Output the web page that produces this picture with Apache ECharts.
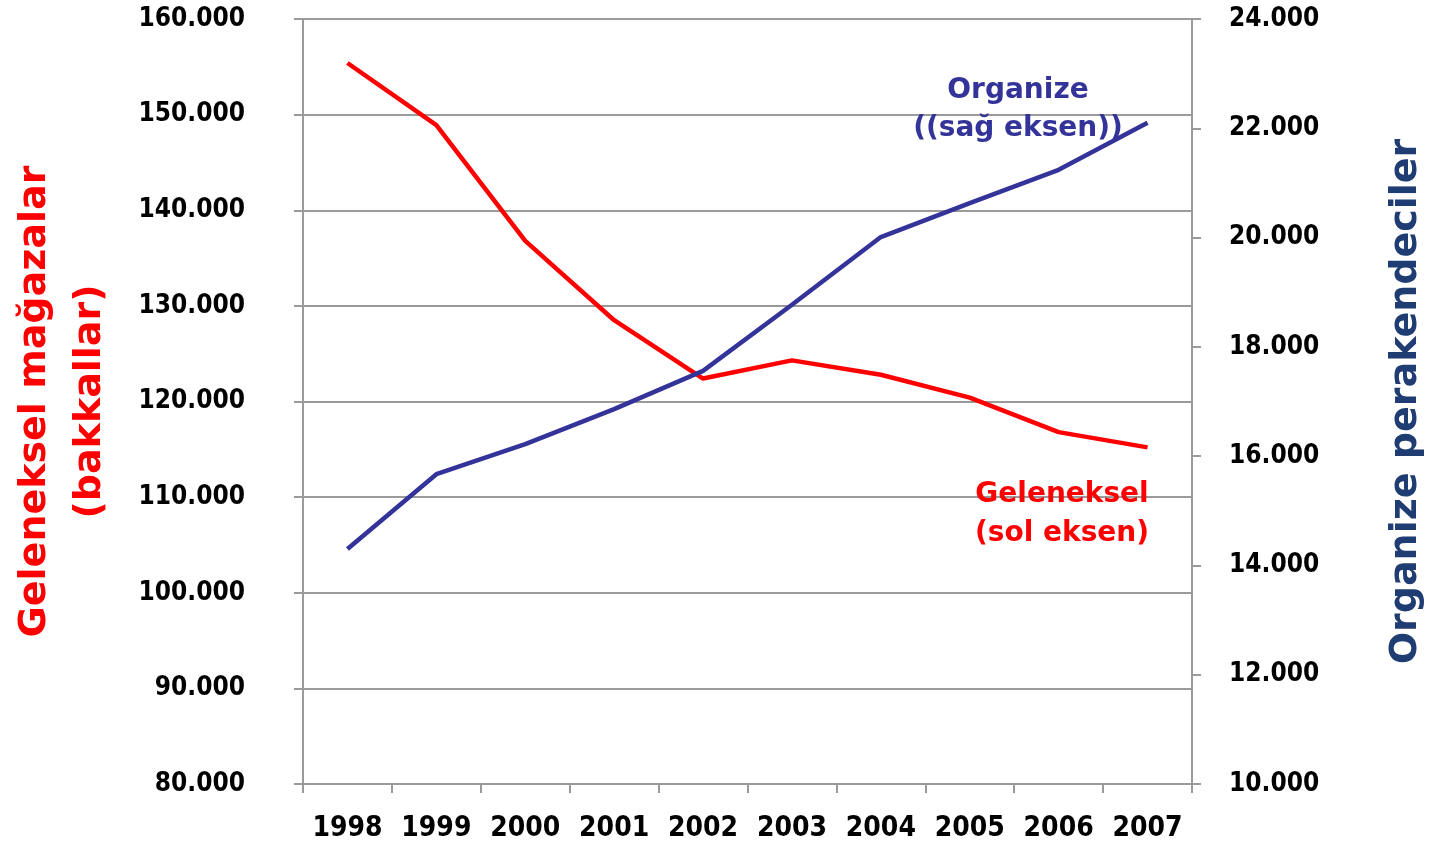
<!DOCTYPE html>
<html>
<head>
<meta charset="utf-8">
<script src="https://cdn.jsdelivr.net/npm/echarts@6/dist/echarts.min.js"></script>
<style>
html, body { margin: 0; padding: 0; background: #fff; }
#main { width: 1439px; height: 843px; }
</style>
</head>
<body>
<div id="main"></div>
<script>
// veriler
const years = ['1998', '1999', '2000', '2001', '2002', '2003', '2004', '2005', '2006', '2007'];
const geleneksel = [155400, 148900, 136800, 128500, 122400, 124300, 122800, 120400, 116800, 115200];
const organize = [14300, 15670, 16220, 16860, 17560, 18770, 20010, 20630, 21240, 22100];

const FONT = '"DejaVu Sans", Verdana, sans-serif';
const FONT_NUM = '"DejaVu Sans Condensed", "DejaVu Sans", sans-serif';
const gray = '#9a9a9a';

// 160000 -> "160.000"
function fmt(v) {
    return String(v).replace(/\B(?=(\d{3})+(?!\d))/g, '.');
}

const labelStyle = { color: '#000', fontFamily: FONT_NUM, fontWeight: 'bold', fontSize: 26 };

const chart = echarts.init(document.getElementById('main'));
chart.setOption({
    animation: false,
    grid: { left: 303, right: 247, top: 19, bottom: 59, containLabel: false, outerBoundsMode: 'none' },
    xAxis: {
        type: 'category',
        data: years,
        boundaryGap: true,
        axisLine: { lineStyle: { color: gray, width: 2 } },
        axisTick: { show: true, length: 9, lineStyle: { color: gray, width: 2 } },
        axisLabel: Object.assign({ margin: 31, interval: 0 }, labelStyle, { fontSize: 28 })
    },
    yAxis: [
        {
            type: 'value',
            min: 80000, max: 160000, interval: 10000,
            position: 'left',
            name: 'Geleneksel mağazalar\n(bakkallar)',
            nameLocation: 'middle',
            nameRotate: 90,
            nameGap: 185,
            nameTextStyle: { color: '#ff0000', fontFamily: FONT, fontWeight: 'bold', fontSize: 38, lineHeight: 55 },
            axisLine: { show: true, lineStyle: { color: gray, width: 2 } },
            axisTick: { show: true, length: 9, lineStyle: { color: gray, width: 2 } },
            splitLine: { show: true, lineStyle: { color: gray, width: 2 } },
            axisLabel: Object.assign({ margin: 58, formatter: fmt }, labelStyle)
        },
        {
            type: 'value',
            min: 10000, max: 24000, interval: 2000,
            position: 'right',
            name: 'Organize perakendeciler',
            nameLocation: 'middle',
            nameRotate: 90,
            nameGap: 195,
            nameTextStyle: { color: '#1f3c73', fontFamily: FONT, fontWeight: 'bold', fontSize: 38 },
            axisLine: { show: true, lineStyle: { color: gray, width: 2 } },
            axisTick: { show: true, length: 9, lineStyle: { color: gray, width: 2 } },
            splitLine: { show: false },
            axisLabel: Object.assign({ margin: 37, formatter: fmt }, labelStyle)
        }
    ],
    series: [
        {
            name: 'Geleneksel',
            type: 'line',
            yAxisIndex: 0,
            data: geleneksel,
            symbol: 'none',
            lineStyle: { color: '#ff0000', width: 4.5 },
            z: 3
        },
        {
            name: 'Organize',
            type: 'line',
            yAxisIndex: 1,
            data: organize,
            symbol: 'none',
            lineStyle: { color: '#333399', width: 4.5 },
            z: 4
        }
    ],
    graphic: [
        {
            type: 'text', x: 1018, y: 110,
            style: {
                text: 'Organize\n((sağ eksen))', fill: '#333399',
                font: 'bold 28px ' + FONT, align: 'center', verticalAlign: 'middle', lineHeight: 38
            },
            z: 10
        },
        {
            type: 'text', x: 1062, y: 514,
            style: {
                text: 'Geleneksel\n(sol eksen)', fill: '#ff0000',
                font: 'bold 28px ' + FONT, align: 'center', verticalAlign: 'middle', lineHeight: 39
            },
            z: 10
        }
    ]
});
</script>
</body>
</html>
